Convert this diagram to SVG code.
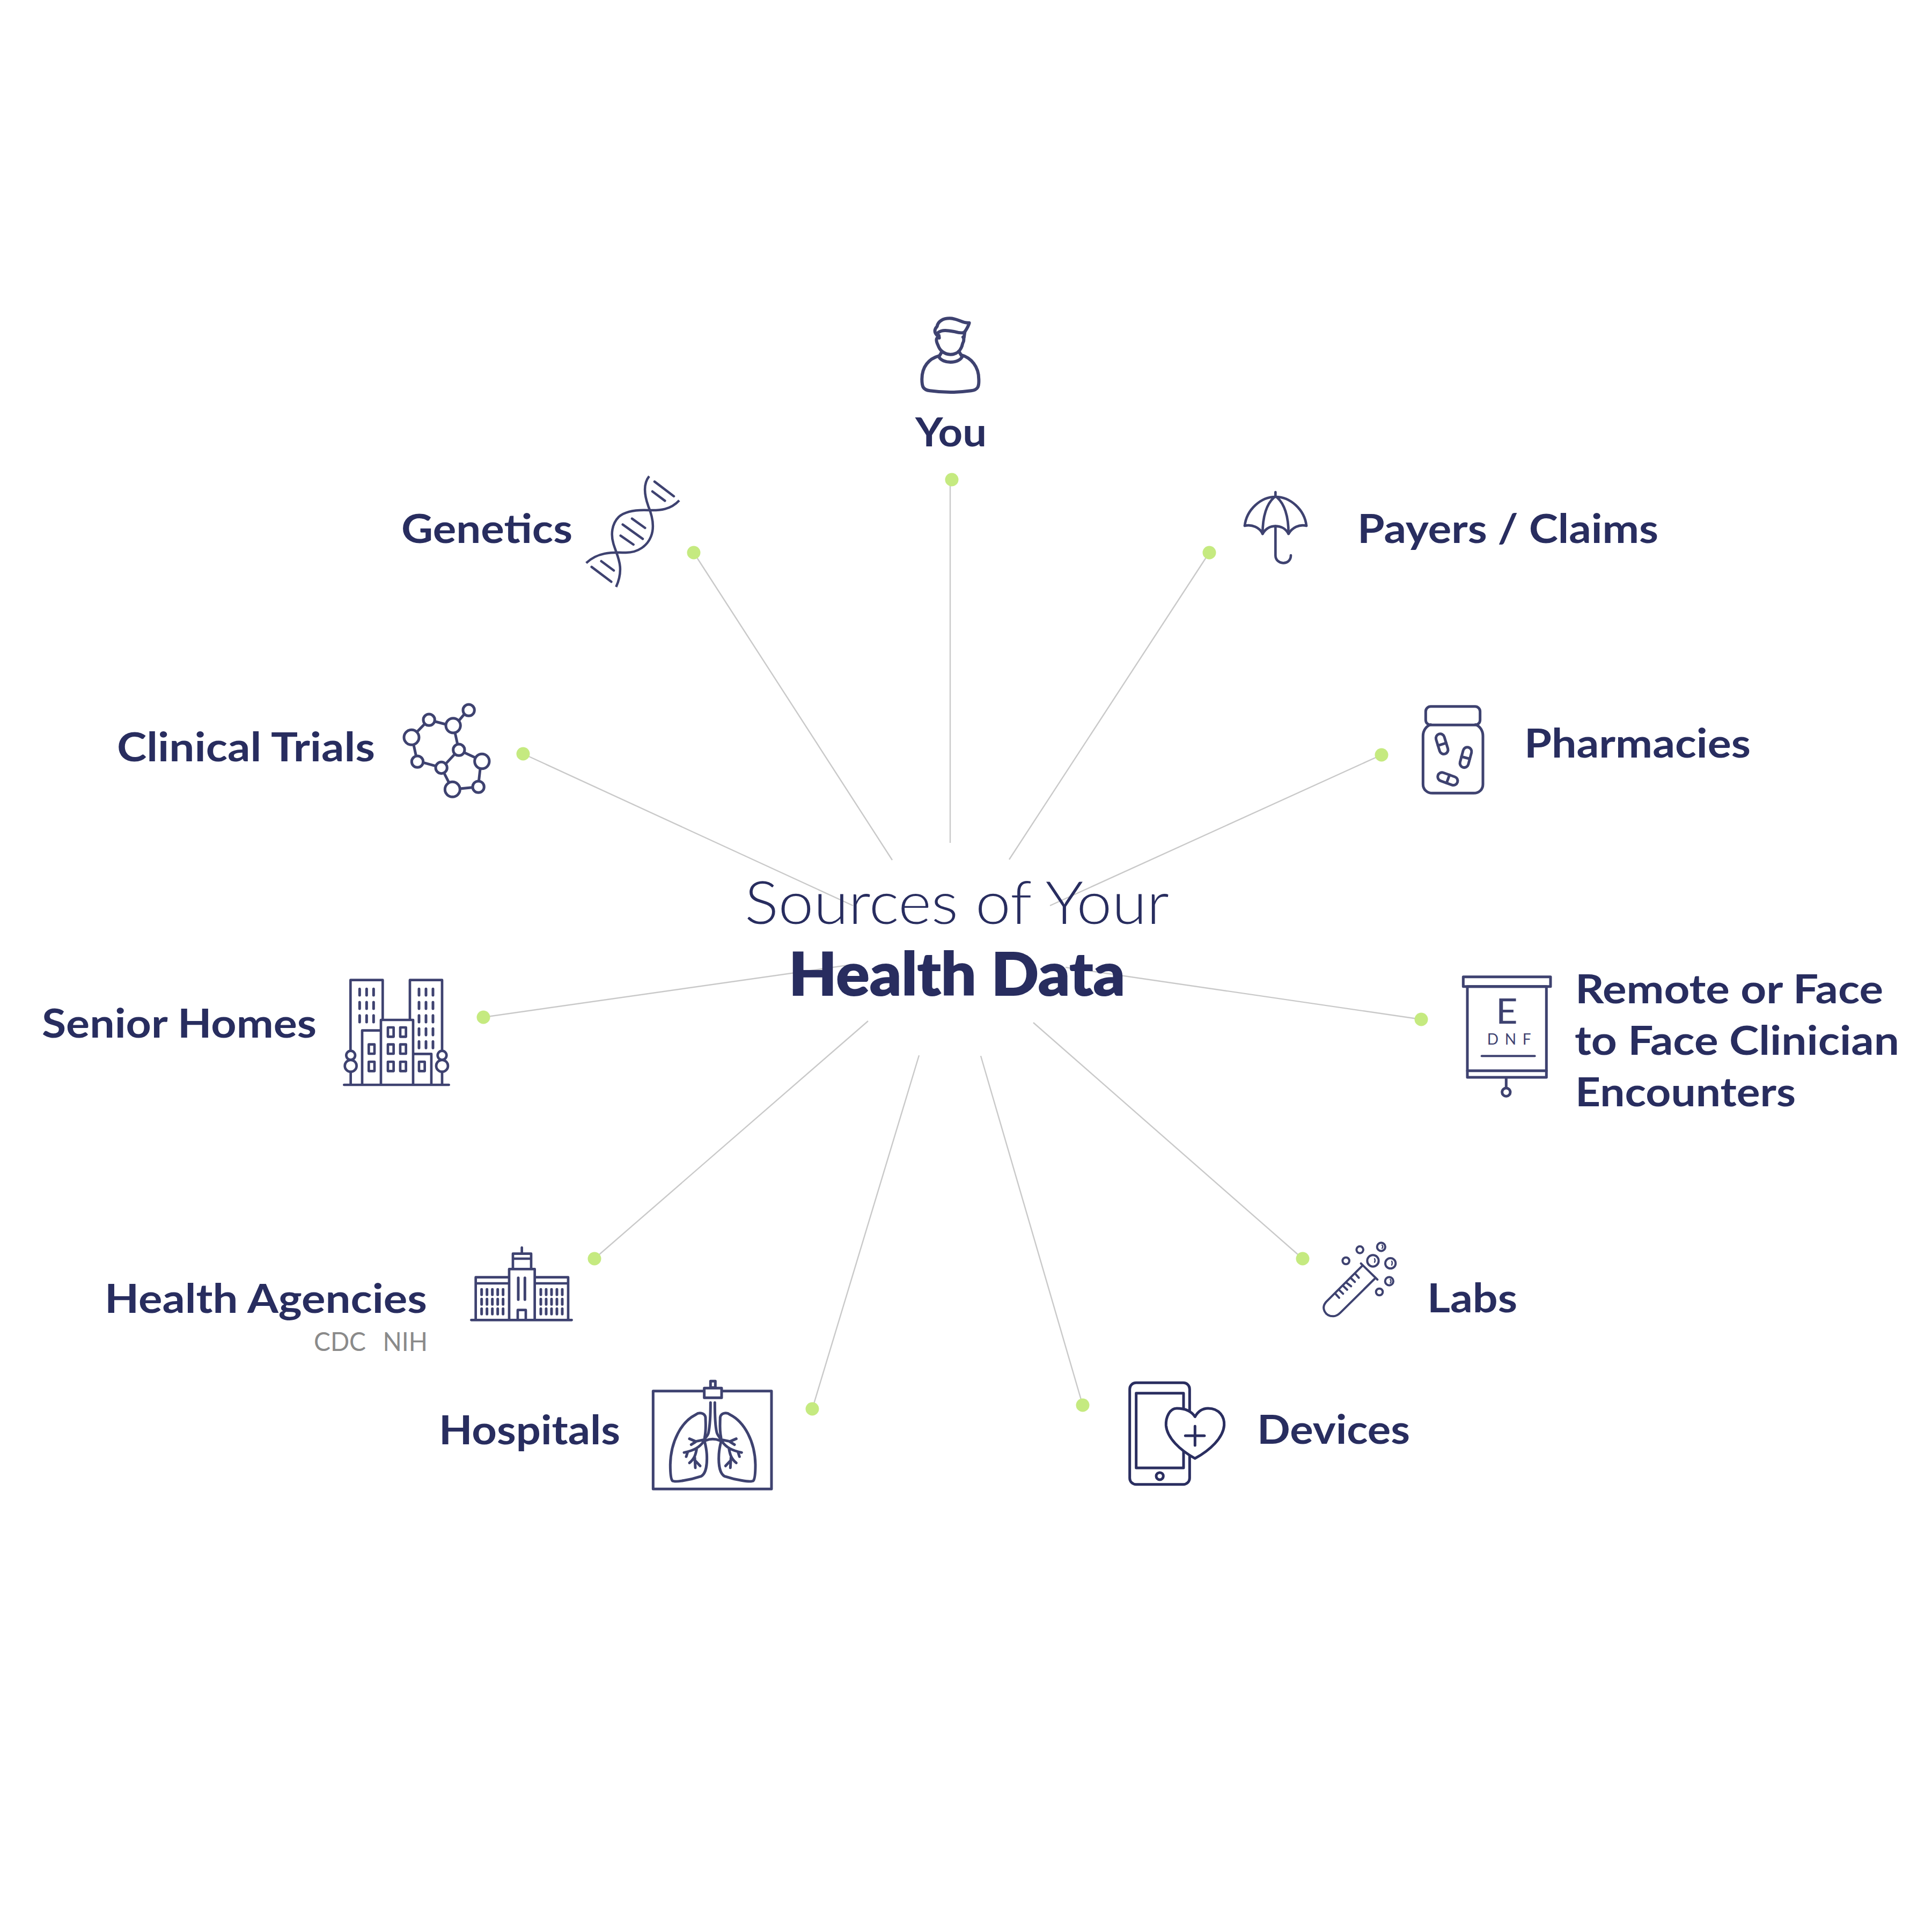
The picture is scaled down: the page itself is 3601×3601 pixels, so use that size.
<svg xmlns="http://www.w3.org/2000/svg" width="3601" height="3601" viewBox="0 0 3601 3601">
<style>
text{font-family:"Lato","Liberation Sans",sans-serif;fill:#282d5f}
.l{font-size:74px;font-weight:700}
.s{font-size:48px;font-weight:400;fill:#8a8a8a;word-spacing:4px}
.t1{font-size:110px;font-weight:300}
.t2{font-size:110px;font-weight:900;stroke:#282d5f;stroke-width:2}
.c line{stroke:#c9c9c9;stroke-width:2.4}
.d{fill:#c5ea80}
.i{fill:none;stroke:#3e4270;stroke-linecap:round;stroke-linejoin:round}
.i text{fill:#3e4270;stroke:none}
</style>
<rect width="3601" height="3601" fill="#fff"/>
<g id="connectors" class="c">
<line x1="1771" y1="894" x2="1771" y2="1571"/>
<line x1="1293" y1="1030" x2="1663" y2="1603"/>
<line x1="2254" y1="1030" x2="1881" y2="1602"/>
<line x1="975" y1="1405" x2="1590" y2="1688"/>
<line x1="2575" y1="1407" x2="1957" y2="1688"/>
<line x1="901" y1="1896" x2="1587" y2="1798"/>
<line x1="2649" y1="1900" x2="1986" y2="1803"/>
<line x1="1108" y1="2346" x2="1618" y2="1903"/>
<line x1="2428" y1="2346" x2="1926" y2="1906"/>
<line x1="1514" y1="2626" x2="1713" y2="1967"/>
<line x1="2018" y1="2619" x2="1828" y2="1968"/>
</g>
<g id="title">
<text class="t1" x="1388" y="1722" textLength="791" lengthAdjust="spacingAndGlyphs">Sources of Your</text>
<text class="t2" x="1470" y="1855" textLength="627" lengthAdjust="spacingAndGlyphs">Health Data</text>
</g>
<g id="you">
<circle class="d" cx="1774" cy="894" r="12.5"/>
<text class="l" x="1706" y="832" textLength="133" lengthAdjust="spacingAndGlyphs">You</text>
<g class="i" stroke-width="18" transform="translate(1600 550) scale(.3333)">
<path d="M450,340C395,355 355,400 355,470C355,510 360,530 400,535C470,545 560,545 630,535C670,530 675,510 673,470C673,400 630,350 575,335"/>
<path d="M450,345C470,385 560,385 580,345M465,320L450,345M565,320L580,345"/>
<path d="M440,240C432,250 440,270 445,280C455,310 480,332 515,332C550,332 575,310 583,270C592,255 590,240 585,235"/>
<path d="M445,230C420,210 425,190 440,175C445,145 475,130 510,130C560,130 580,160 620,155C615,175 605,190 595,205L590,240"/>
<path d="M445,210C470,190 510,200 540,205C565,212 585,215 595,205M450,225L452,240"/>
</g>
</g>
<g id="genetics">
<circle class="d" cx="1293" cy="1030" r="12.5"/>
<text class="l" x="748" y="1012" textLength="319" lengthAdjust="spacingAndGlyphs">Genetics</text>
<g class="i" stroke-width="13.5" transform="translate(1050 850) scale(.3333)">
<path stroke-linecap="butt" d="M480,113C450,150 450,210 475,280C500,340 510,400 490,450C470,500 420,540 350,540C290,540 200,530 128,598"/>
<path stroke-linecap="butt" d="M648,248C600,300 540,305 480,303C420,300 350,305 310,340C270,380 265,440 280,490C300,560 345,620 295,732"/>
<path d="M510,143L618,225M498,198L568,250M384,350L457,402M332,383L444,463M320,445L392,495M212,588L282,640M158,620L268,703"/>
</g>
</g>
<g id="payers">
<circle class="d" cx="2254" cy="1030" r="12.5"/>
<text class="l" x="2530" y="1012" textLength="561" lengthAdjust="spacingAndGlyphs">Payers / Claims</text>
<g class="i" stroke-width="14" stroke-linecap="butt" transform="translate(2280 880) scale(.3333)">
<path d="M120,300C130,210 210,138 292,138C375,138 455,210 465,300"/>
<path d="M120,300C160,290 205,310 220,345C240,310 265,302 292,302C320,302 345,310 365,345C385,310 425,290 465,300"/>
<path d="M220,345C220,250 240,180 285,140M365,345C365,250 345,180 300,140M292,112V138"/>
<path d="M292,302V465C292,520 378,525 378,465"/>
</g>
</g>
<g id="clinical-trials">
<circle class="d" cx="975" cy="1405" r="12.5"/>
<text class="l" x="218" y="1419" textLength="481" lengthAdjust="spacingAndGlyphs">Clinical Trials</text>
<g class="i" stroke-width="15" stroke-linecap="butt" transform="translate(720 1290) scale(.3333)">
<circle cx="141" cy="253" r="42"/><circle cx="239" cy="155" r="32"/><circle cx="374" cy="187" r="41"/><circle cx="461" cy="101" r="32"/><circle cx="406" cy="323" r="32"/><circle cx="535" cy="387" r="41"/><circle cx="515" cy="530" r="32"/><circle cx="370" cy="544" r="42"/><circle cx="308" cy="423" r="32"/><circle cx="174" cy="389" r="32"/>
<path d="M172,222L215,178M275,165L332,180M410,155L435,125M385,230L397,285M440,340L495,365M525,430L518,492M480,533L412,540M350,505L327,460M338,395L380,350M272,412L210,395M165,350L153,295"/>
</g>
</g>
<g id="pharmacies">
<circle class="d" cx="2575" cy="1407" r="12.5"/>
<text class="l" x="2841" y="1412" textLength="422" lengthAdjust="spacingAndGlyphs">Pharmacies</text>
<g class="i" stroke-width="15" transform="translate(2630 1290) scale(.3333)">
<rect x="82" y="80" width="304" height="104" rx="28"/>
<path d="M110,182C85,190 67,215 67,245V515C67,545 90,565 120,565H350C380,565 402,545 402,515V245C402,215 385,190 360,182"/>
<g transform="translate(173 290) rotate(-17)"><rect x="-24" y="-58" width="48" height="116" rx="24"/><path d="M-24,2H24"/></g>
<g transform="translate(306 365) rotate(15)"><rect x="-24" y="-58" width="48" height="116" rx="24"/><path d="M-24,2H24"/></g>
<g transform="translate(205 485) rotate(-70)"><rect x="-24" y="-58" width="48" height="116" rx="24"/><path d="M-24,2H24"/></g>
</g>
</g>
<g id="senior-homes">
<circle class="d" cx="901" cy="1896" r="12.5"/>
<text class="l" x="78" y="1934" textLength="512" lengthAdjust="spacingAndGlyphs">Senior Homes</text>
<g class="i" stroke-width="14" transform="translate(620 1800) scale(.3333)">
<path d="M100,470V80H280V298M432,298V80H612V470M270,660V303H450V660M165,660V362H270M450,493H552V660M64,666H650M101,595V660M612,595V660"/>
<circle cx="101" cy="501" r="25"/><circle cx="101" cy="560" r="33"/><circle cx="612" cy="501" r="25"/><circle cx="612" cy="560" r="33"/>
<path stroke-width="15" d="M151,130V165M190,130V165M229,130V165M151,204V240M190,204V240M229,204V240M151,278V315M190,278V315M229,278V315M483,130V165M522,130V165M561,130V165M483,204V240M522,204V240M561,204V240M483,278V315M522,278V315M561,278V315M483,352V388M522,352V388M561,352V388M483,424V460M522,424V460M561,424V460"/>
<rect x="309" y="345" width="32" height="52"/><rect x="378" y="345" width="32" height="52"/><rect x="309" y="440" width="32" height="52"/><rect x="378" y="440" width="32" height="52"/><rect x="309" y="537" width="32" height="52"/><rect x="378" y="537" width="32" height="52"/><rect x="202" y="440" width="32" height="52"/><rect x="202" y="537" width="32" height="52"/><rect x="483" y="537" width="32" height="52"/>
</g>
</g>
<g id="remote-encounters">
<circle class="d" cx="2649" cy="1900" r="12.5"/>
<text class="l" x="2936" y="1870" textLength="574" lengthAdjust="spacingAndGlyphs">Remote or Face</text>
<text class="l" x="2935" y="1966" textLength="605" lengthAdjust="spacingAndGlyphs">to Face Clinician</text>
<text class="l" x="2936" y="2062" textLength="411" lengthAdjust="spacingAndGlyphs">Encounters</text>
<g class="i" stroke-width="15" stroke-linecap="butt" stroke-linejoin="miter" transform="translate(2700 1800) scale(.3333)">
<rect x="82" y="62" width="488" height="54"/>
<rect x="105" y="116" width="442" height="508"/>
<path d="M105,587H547M322,630V680"/>
<circle cx="322" cy="707" r="23"/>
<path stroke-width="12" stroke-linecap="round" d="M185,505H482"/>
<text x="264" y="325" font-size="196" font-weight="400" textLength="122" lengthAdjust="spacingAndGlyphs">E</text>
<text x="215" y="440" font-size="84" font-weight="400" textLength="246" lengthAdjust="spacing">D N F</text>
</g>
</g>
<g id="health-agencies">
<circle class="d" cx="1108" cy="2346" r="12.5"/>
<text class="l" x="195" y="2447" textLength="601" lengthAdjust="spacingAndGlyphs">Health Agencies</text>
<text class="s" x="585" y="2518" textLength="212" lengthAdjust="spacingAndGlyphs" xml:space="preserve">CDC  NIH</text>
<g class="i" stroke-width="14" transform="translate(860 2310) scale(.3333)">
<path d="M55,451H617M80,445V212H265M80,246H265M410,212H597V445M410,246H590M267,445V166H410V445M288,162V80H390V162M290,108H385M338,46V75M315,445V395H360V445"/>
<path stroke-width="15" d="M318,215V337M355,215V337M113,280V310M143,280V310M173,280V310M203,280V310M233,280V310M113,334V364M143,334V364M173,334V364M203,334V364M233,334V364M113,388V418M143,388V418M173,388V418M203,388V418M233,388V418M444,280V310M474,280V310M504,280V310M534,280V310M564,280V310M444,334V364M474,334V364M504,334V364M534,334V364M564,334V364M444,388V418M474,388V418M504,388V418M534,388V418M564,388V418"/>
</g>
</g>
<g id="labs">
<circle class="d" cx="2428" cy="2346" r="12.5"/>
<text class="l" x="2660" y="2446" textLength="168" lengthAdjust="spacingAndGlyphs">Labs</text>
<g class="i" stroke-width="12" transform="translate(2450 2310) scale(.3333)">
<circle cx="176" cy="120" r="19"/><circle cx="254" cy="58" r="19"/><circle cx="373" cy="42" r="23"/><circle cx="327" cy="120" r="32"/><circle cx="425" cy="134" r="29"/><circle cx="418" cy="234" r="23"/><circle cx="363" cy="294" r="19"/>
<path d="M260,135L352,225M270,145L65,350C35,385 60,430 105,430C120,430 135,420 145,410L335,222"/>
<path d="M228,192L248,215M203,216L226,238M178,242L205,262M160,260L183,282M138,283L160,304M118,305L138,327"/>
<path stroke-width="7" d="M378,32Q386,42 378,50M336,108Q342,118 336,128M432,122Q438,132 432,144M424,224Q432,234 424,244"/>
</g>
</g>
<g id="hospitals">
<circle class="d" cx="1514" cy="2626" r="12.5"/>
<text class="l" x="818" y="2692" textLength="338" lengthAdjust="spacingAndGlyphs">Hospitals</text>
<g class="i" stroke-width="15" stroke-linejoin="miter" transform="translate(1200 2570) scale(.3333)">
<rect x="52" y="68" width="662" height="548"/>
<rect x="338" y="52" width="97" height="54" fill="#fff"/>
<rect x="373" y="13" width="27" height="36"/>
<g stroke-width="15" stroke-linejoin="round">
<path d="M373,133C373,200 370,260 362,300C360,315 350,325 340,335M397,133C397,200 398,260 408,300C412,315 422,325 432,340M345,345C370,335 400,335 425,345"/>
<g id="lung">
<path d="M340,330C350,280 345,250 345,215C340,190 310,185 290,200C210,240 150,350 148,480C148,520 150,560 160,570C175,580 260,565 320,545C350,530 355,470 352,420C350,390 345,370 340,350"/>
<path d="M340,340L290,350L255,335M290,352L265,368M335,350C310,385 280,400 225,412M237,435L245,410M295,395C290,420 285,445 255,470M285,440L288,497M285,455L315,487"/>
</g>
<g transform="matrix(-1 0 0 1 772 0)">
<path d="M340,330C350,280 345,250 345,215C340,190 310,185 290,200C210,240 150,350 148,480C148,520 150,560 160,570C175,580 260,565 320,545C350,530 355,470 352,420C350,390 345,370 340,350"/>
<path d="M340,340L290,350L255,335M290,352L265,368M335,350C310,385 280,400 225,412M237,435L245,410M295,395C290,420 285,445 255,470M285,440L288,497M285,455L315,487"/>
</g>
</g>
</g>
</g>
<g id="devices">
<circle class="d" cx="2018" cy="2619" r="12.5"/>
<text class="l" x="2343" y="2691" textLength="285" lengthAdjust="spacingAndGlyphs">Devices</text>
<g class="i" stroke-width="15" style="stroke:#2a2e60" transform="translate(2090 2570) scale(.3333)">
<rect x="47" y="22" width="335" height="568" rx="35"/>
<rect x="83" y="80" width="265" height="418"/>
<circle cx="215" cy="544" r="20"/>
<path fill="#fff" d="M412,212C385,170 340,165 310,165C270,165 248,215 250,260C255,330 330,400 412,445C495,400 570,330 575,260C578,215 550,165 485,165C455,165 430,180 412,212Z"/>
<path d="M412,265V372M358,318H465"/>
</g>
</g>
</svg>
